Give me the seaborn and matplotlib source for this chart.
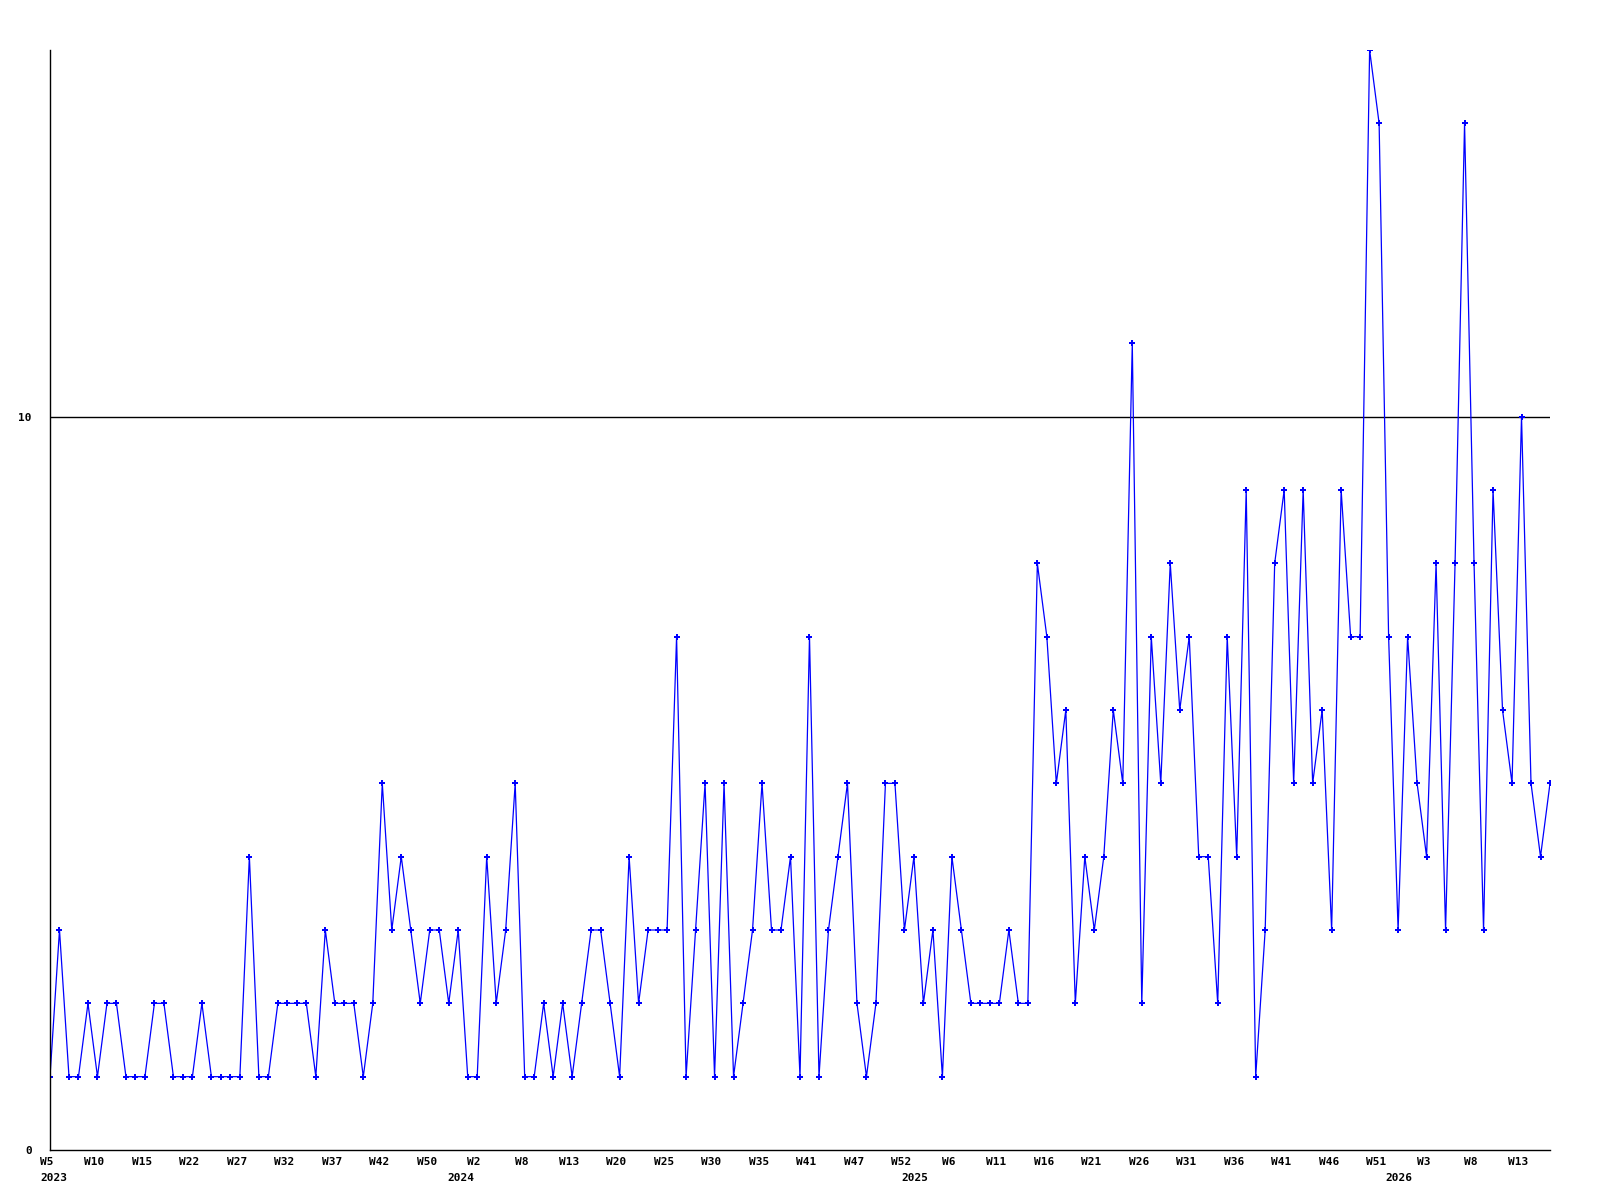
import matplotlib
matplotlib.use("Agg")
import matplotlib.pyplot as plt
import matplotlib.transforms as mtransforms
import seaborn as sns
import pandas as pd
import numpy as np

# ---- data (weekly counts, one per plotted week) ----
values = [
    1, 3, 1, 1, 2, 1, 2, 2, 1, 1, 1, 2, 2, 1, 1, 1, 2, 1, 1, 1,
    1, 4, 1, 1, 2, 2, 2, 2, 1, 3, 2, 2, 2, 1, 2, 5, 3, 4, 3, 2,
    3, 3, 2, 3, 1, 1, 4, 2, 3, 5, 1, 1, 2, 1, 2, 1, 2, 3, 3, 2,
    1, 4, 2, 3, 3, 3, 7, 1, 3, 5, 1, 5, 1, 2, 3, 5, 3, 3, 4, 1,
    7, 1, 3, 4, 5, 2, 1, 2, 5, 5, 3, 4, 2, 3, 1, 4, 3, 2, 2, 2,
    2, 3, 2, 2, 8, 7, 5, 6, 2, 4, 3, 4, 6, 5, 11, 2, 7, 5, 8, 6,
    7, 4, 4, 2, 7, 4, 9, 1, 3, 8, 9, 5, 9, 5, 6, 3, 9, 7, 7, 15,
    14, 7, 3, 7, 5, 4, 8, 3, 8, 14, 8, 3, 9, 6, 5, 10, 5, 4, 5,
]
week_tick_labels = [
    "W5", "W10", "W15", "W22", "W27", "W32", "W37", "W42", "W50", "W2",
    "W8", "W13", "W20", "W25", "W30", "W35", "W41", "W47", "W52", "W6",
    "W11", "W16", "W21", "W26", "W31", "W36", "W41", "W46", "W51", "W3",
    "W8", "W13",
]
tick_every = 5
year_labels = ["2023", "2024", "2025", "2026"]
year_label_pos = [0.4, 43.3, 91.1, 142.1]
y_tick_values = [0, 10]

df = pd.DataFrame({"idx": np.arange(len(values)), "count": values})

fig = plt.figure(figsize=(16, 12), dpi=100)
ax = fig.add_axes([50 / 1600, 1 - 1150 / 1200, 1500 / 1600, 1100 / 1200])

sns.lineplot(data=df, x="idx", y="count", ax=ax, color="#0000FF",
             linewidth=0.9, marker="P", markersize=3.8,
             markeredgewidth=0, markerfacecolor="#0000FF")

ax.axhline(10, color="black", linewidth=1.0, zorder=0)

for s in ["top", "right"]:
    ax.spines[s].set_visible(False)
for s in ["left", "bottom"]:
    ax.spines[s].set_color("black")
    ax.spines[s].set_linewidth(1.0)

mono = {"family": "DejaVu Sans Mono", "weight": "bold", "size": 8}

ax.set_xticks(np.arange(0, len(week_tick_labels) * tick_every, tick_every))
ax.set_xticklabels(week_tick_labels, fontdict=mono)
ax.set_yticks(y_tick_values)
ax.set_yticklabels([str(v) for v in y_tick_values], fontdict=mono)
ax.tick_params(axis="x", length=0, pad=5)
ax.tick_params(axis="y", length=0, pad=13)

shift = mtransforms.ScaledTranslation(-3 / 100, 0, fig.dpi_scale_trans)
for lbl in ax.get_xticklabels():
    lbl.set_transform(lbl.get_transform() + shift)

ax.set_xlim(0, len(values) - 1)
ax.set_ylim(0, 15)

for lab, pos in zip(year_labels, year_label_pos):
    ax.annotate(lab, xy=(pos, 0), xycoords=("data", "axes fraction"),
                xytext=(0, -16.5), textcoords="offset points",
                ha="center", va="top", annotation_clip=False, **mono)

ax.set_xlabel("")
ax.set_ylabel("")
ax.grid(False)
ax.set_facecolor("white")

fig.savefig("out.png", dpi=100, facecolor="white")
